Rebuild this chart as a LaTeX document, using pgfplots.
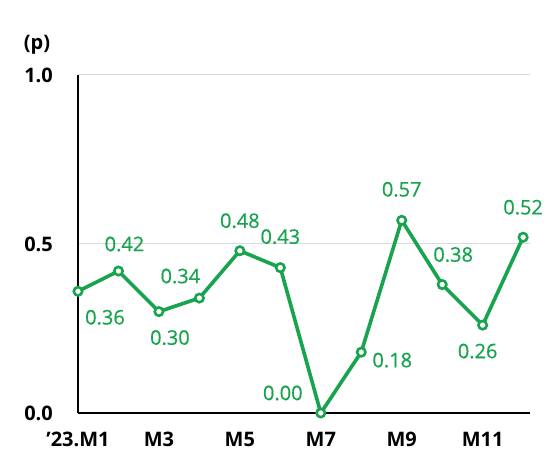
\documentclass[border=0pt]{standalone}
\usepackage{pgfplots}
\pgfplotsset{compat=1.18}
\usepackage{fontspec}
\setmainfont{Open Sans}
\newfontfamily\lblfont{Open Sans}[FakeBold=0.6]
\definecolor{lgreen}{RGB}{24,163,78}
\definecolor{gridgray}{RGB}{217,217,217}
\pgfplotstableread{
x y dx dy lbl
1 0.36 27 -26 0.36
2 0.42 6 27 0.42
3 0.30 11 -26 0.30
4 0.34 -19 22 0.34
5 0.48 0 30 0.48
6 0.43 0 31 0.43
7 0.00 -38 20 0.00
8 0.18 31 -8 0.18
9 0.57 0 31 0.57
10 0.38 11 30 0.38
11 0.26 -5 -26 0.26
12 0.52 0 30 0.52
}\datatable
\begin{document}
\begin{tikzpicture}[x=1pt,y=1pt]
\path[use as bounding box] (0,0) rectangle (549,454);
\node[font=\bfseries\fontsize{20}{24}\selectfont, inner sep=0pt] at (37,409) {(p)};
\begin{axis}[
  at={(78pt,41pt)}, anchor=south west,
  scale only axis, width=452pt, height=338pt,
  xmin=1, xmax=12.17, ymin=0, ymax=1,
  clip=false,
  axis lines=left,
  axis line style={-, black, line width=2.2pt},
  major tick length=0pt,
  ytick={0,0.5,1}, yticklabels={0.0,0.5,1.0},
  xtick={1,3,5,7,9,11}, xticklabels={'23.M1,M3,M5,M7,M9,M11},
  ymajorgrids, grid style={gridgray, line width=1pt},
  tick label style={font=\bfseries\fontsize{20}{24}\selectfont},
  yticklabel style={anchor=east, inner sep=0pt, xshift=-25pt},
  xticklabel style={anchor=north, inner sep=0pt, yshift=-19pt},
]
\addplot[lgreen, line width=3.6pt, mark=*, mark size=4.2pt,
  mark options={fill=white, draw=lgreen, line width=2.6pt},
  nodes near coords, point meta=explicit symbolic,
  visualization depends on={\thisrow{dx} \as \dx},
  visualization depends on={\thisrow{dy} \as \dy},
  every node near coord/.append style={font=\lblfont\fontsize{20}{24}\selectfont, text=lgreen, anchor=center, inner sep=0pt, xshift=\dx pt, yshift=\dy pt}]
  table[x=x, y=y, meta=lbl] {\datatable};
\end{axis}
\end{tikzpicture}
\end{document}
